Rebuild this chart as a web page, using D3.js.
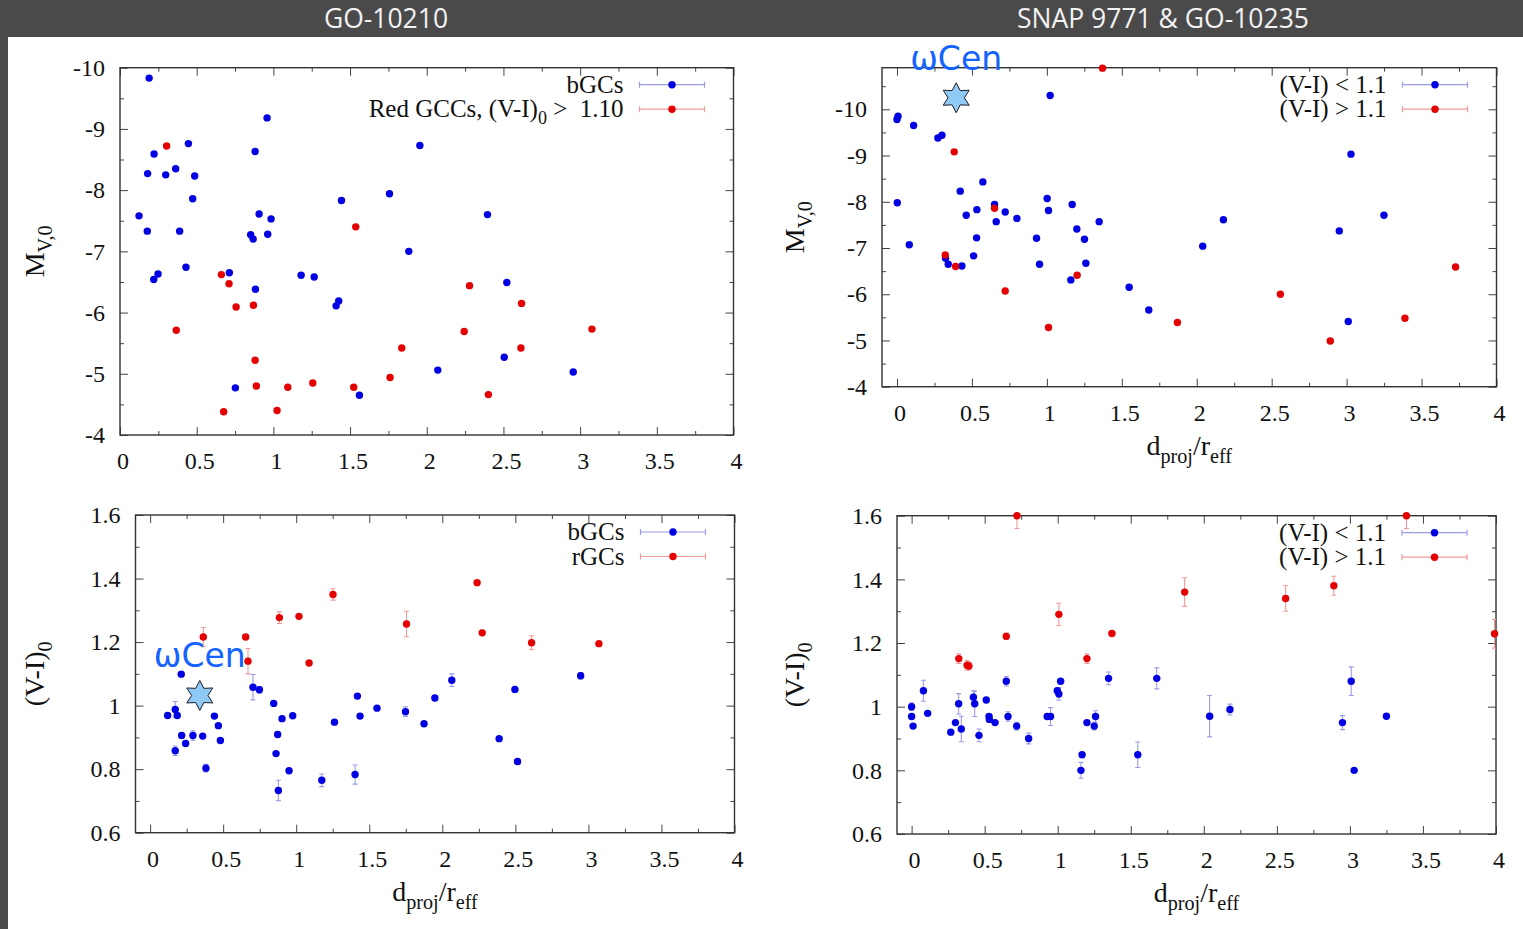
<!DOCTYPE html>
<html>
<head>
<meta charset="utf-8">
<script src="https://cdn.jsdelivr.net/npm/d3@7"></script>
<style>
  body { margin: 0; background: #fff; }
  svg { display: block; }
</style>
</head>
<body>
<svg id="chart" width="1523" height="929"></svg>
<script>
// ---------------- data ----------------
const programmes = ["GO-10210", "SNAP 9771 & GO-10235"];

const distTicks = [0, 0.5, 1, 1.5, 2, 2.5, 3, 3.5, 4];
const mvTicks = [-10, -9, -8, -7, -6, -5, -4];
const colourTicks = [0.6, 0.8, 1, 1.2, 1.4, 1.6];

const legendGO = ["bGCs", "Red GCCs, (V-I)_{0} >\u00a0 1.10"];
const legendGOColour = ["bGCs", "rGCs"];
const legendSNAP = ["(V-I) < 1.1", "(V-I) > 1.1"];

const titleMv = "M_{V,0}";
const titleColour = "(V-I)_{0}";
const titleDist = "d_{proj}/r_{eff}";
const omegaLabel = "\u03c9Cen";

// GO-10210: [d_proj/r_eff, M_V,0]
const mvBlueGO = [
  [0.19, -9.83], [0.959, -9.18], [0.446, -8.76], [0.222, -8.59], [0.881, -8.63],
  [0.18, -8.27], [0.298, -8.25], [0.363, -8.35], [0.487, -8.23], [0.474, -7.86],
  [0.124, -7.58], [0.178, -7.33], [0.389, -7.33], [0.907, -7.61], [0.985, -7.53],
  [0.852, -7.27], [0.868, -7.20], [0.963, -7.28], [1.444, -7.83], [1.757, -7.94],
  [1.883, -7.00], [0.43, -6.74], [0.248, -6.63], [0.22, -6.54], [0.713, -6.65],
  [0.883, -6.38], [1.181, -6.61], [1.266, -6.58], [1.426, -6.19], [1.409, -6.11],
  [0.752, -4.77], [1.561, -4.65], [1.955, -8.73], [2.396, -7.60], [2.522, -6.49],
  [2.505, -5.27], [2.072, -5.06], [2.955, -5.03]
];
const mvRedGO = [
  [0.304, -8.72], [0.367, -5.71], [0.661, -6.62], [0.711, -6.47], [0.757, -6.09],
  [0.87, -6.12], [0.881, -5.22], [0.889, -4.80], [0.676, -4.38], [1.024, -4.40],
  [1.094, -4.78], [1.257, -4.85], [1.524, -4.78], [1.537, -7.40], [1.761, -4.94],
  [1.837, -5.42], [2.279, -6.44], [2.618, -6.15], [2.244, -5.69], [2.614, -5.42],
  [3.077, -5.73], [2.402, -4.66]
];

// SNAP 9771 & GO-10235: [d_proj/r_eff, M_V,0]
const mvBlueSNAP = [
  [0.007, -9.85], [0.0, -9.78], [0.111, -9.65], [0.273, -9.38], [0.30, -9.44],
  [0.002, -7.98], [0.082, -7.07], [0.422, -8.23], [0.573, -8.43], [0.462, -7.71],
  [0.533, -7.83], [0.531, -7.22], [0.511, -6.83], [0.324, -6.78], [0.342, -6.65],
  [0.433, -6.61], [0.651, -7.94], [0.662, -7.57], [0.722, -7.78], [0.80, -7.64],
  [0.931, -7.21], [0.951, -6.65], [1.002, -8.07], [1.011, -7.81], [1.022, -10.30],
  [1.169, -7.94], [1.20, -7.41], [1.251, -7.19], [1.26, -6.67], [1.16, -6.31],
  [1.349, -7.57], [1.549, -6.15], [1.68, -5.66], [2.04, -7.04], [2.178, -7.61],
  [2.951, -7.37], [3.029, -9.03], [3.249, -7.71], [3.011, -5.41]
];
const mvRedSNAP = [
  [1.371, -10.89], [0.382, -9.08], [0.322, -6.85], [0.391, -6.60], [0.651, -7.86],
  [0.722, -6.07], [1.202, -6.41], [1.011, -5.28], [1.871, -5.39], [2.558, -6.00],
  [2.891, -4.99], [3.389, -5.48], [3.727, -6.59]
];

// GO-10210: [d_proj/r_eff, (V-I)_0, error]
const colourBlueGO = [
  [0.12, 0.969, 0.005], [0.172, 0.988, 0.025], [0.186, 0.969, 0.005], [0.172, 0.858, 0.015],
  [0.213, 1.099, 0.005], [0.216, 0.906, 0.008], [0.243, 0.881, 0.008], [0.293, 0.906, 0.015],
  [0.36, 0.904, 0.005], [0.382, 0.803, 0.012], [0.44, 0.967, 0.005], [0.467, 0.937, 0.005],
  [0.481, 0.89, 0.005], [0.704, 1.058, 0.04], [0.748, 1.05, 0.01], [0.846, 1.007, 0.005],
  [0.903, 0.959, 0.005], [0.976, 0.968, 0.005], [0.873, 0.909, 0.008], [0.862, 0.849, 0.005],
  [0.951, 0.795, 0.005], [0.878, 0.733, 0.032], [1.175, 0.765, 0.02], [1.403, 0.783, 0.03],
  [1.262, 0.948, 0.006], [1.419, 1.03, 0.008], [1.437, 0.967, 0.005], [1.553, 0.992, 0.005],
  [1.748, 0.981, 0.015], [1.875, 0.943, 0.005], [1.949, 1.024, 0.008], [2.065, 1.08, 0.02],
  [2.497, 1.051, 0.005], [2.389, 0.896, 0.005], [2.515, 0.824, 0.005], [2.947, 1.094, 0.01]
];
const colourRedGO = [
  [0.364, 1.216, 0.03], [0.654, 1.216, 0.008], [0.67, 1.14, 0.04], [0.885, 1.277, 0.018],
  [1.019, 1.281, 0.005], [1.088, 1.134, 0.005], [1.252, 1.35, 0.018], [1.755, 1.257, 0.04],
  [2.238, 1.387, 0.005], [2.273, 1.229, 0.008], [2.611, 1.198, 0.022], [3.072, 1.195, 0.005]
];

// SNAP 9771 & GO-10235: [d_proj/r_eff, (V-I)_0, error]
const colourBlueSNAP = [
  [0.0, 1.0, 0.012], [0.0, 0.969, 0.005], [0.01, 0.939, 0.005], [0.081, 1.05, 0.033],
  [0.11, 0.979, 0.005], [0.268, 0.92, 0.005], [0.30, 0.95, 0.005], [0.322, 1.009, 0.032],
  [0.34, 0.93, 0.04], [0.423, 1.03, 0.02], [0.432, 1.009, 0.04], [0.461, 0.91, 0.02],
  [0.511, 1.021, 0.008], [0.53, 0.969, 0.008], [0.532, 0.96, 0.005], [0.571, 0.95, 0.005],
  [0.648, 1.08, 0.015], [0.66, 0.969, 0.015], [0.719, 0.939, 0.012], [0.801, 0.90, 0.017],
  [0.928, 0.969, 0.008], [0.951, 0.969, 0.028], [0.997, 1.05, 0.008], [1.008, 1.04, 0.02],
  [1.02, 1.08, 0.005], [1.159, 0.80, 0.025], [1.167, 0.849, 0.005], [1.20, 0.95, 0.005],
  [1.25, 0.939, 0.012], [1.259, 0.969, 0.018], [1.348, 1.089, 0.02], [1.548, 0.849, 0.04],
  [1.678, 1.089, 0.033], [2.04, 0.97, 0.065], [2.179, 0.991, 0.017], [2.949, 0.95, 0.022],
  [3.009, 1.08, 0.045], [3.029, 0.80, 0.005], [3.25, 0.97, 0.005]
];
const colourRedSNAP = [
  [0.721, 1.60, 0.04], [0.323, 1.151, 0.015], [0.38, 1.13, 0.015], [0.392, 1.128, 0.012],
  [0.648, 1.221, 0.01], [1.008, 1.29, 0.035], [1.20, 1.151, 0.015], [1.371, 1.23, 0.005],
  [1.869, 1.36, 0.045], [2.56, 1.34, 0.04], [2.89, 1.38, 0.03], [3.387, 1.60, 0.04],
  [3.99, 1.229, 0.045]
];

// omega Cen reference marks: [d_proj/r_eff, value]
const omegaCenMv = [0.395, -10.25];
const omegaCenColour = [0.34, 1.032];

// ---------------- styling ----------------
const SERIF = "'Liberation Serif', 'Times New Roman', serif";
const SANS = "'Open Sans', 'DejaVu Sans', sans-serif";
const BLUE = "#0000e2", RED = "#e40000";
const BLUE_BAR = "#9c9ce6", RED_BAR = "#f09a9a";
const FRAME = "#333";

const svg = d3.select("#chart");
const W = 1523, H = 929;

svg.append("rect").attr("width", W).attr("height", H).attr("fill", "#fff");
svg.append("rect").attr("x", 0).attr("y", 0).attr("width", W).attr("height", 37).attr("fill", "#4a4a4a");
svg.append("rect").attr("x", 0).attr("y", 37).attr("width", 8).attr("height", H - 37).attr("fill", "#4a4a4a");

[[386, programmes[0]], [1163, programmes[1]]].forEach(([cx, t]) => {
  svg.append("text").attr("x", cx).attr("y", 28)
    .attr("text-anchor", "middle").attr("font-family", SANS)
    .attr("font-size", 26.5).attr("fill", "#f2f2f2").text(t);
});

// text with "_{...}" subscripts
function richText(sel, str, fs) {
  const parts = str.split(/(_\{[^}]*\})/).filter(s => s.length);
  const shift = fs * 0.28;
  let down = false;
  parts.forEach(p => {
    if (p.startsWith("_{")) {
      sel.append("tspan").attr("font-size", fs * 0.72).attr("dy", shift).text(p.slice(2, -1));
      down = true;
    } else {
      const t = sel.append("tspan").attr("font-size", fs).text(p);
      if (down) { t.attr("dy", -shift); down = false; }
    }
  });
}

const panels = [
  { box: [120, 67.7, 733.5, 435], xDom: [0, 4], yDom: [-4, -10], yTicks: mvTicks, yMinor: 0.5,
    blue: mvBlueGO, red: mvRedGO, legend: legendGO, yTitle: titleMv, xTitle: null, yTitleX: 35, omega: null },
  { box: [882, 67.7, 1496.5, 386.7], xDom: [-0.1, 4], yDom: [-4, -10.9], yTicks: mvTicks, yMinor: 0.5,
    blue: mvBlueSNAP, red: mvRedSNAP, legend: legendSNAP, yTitle: titleMv, xTitle: titleDist, yTitleX: 795, omega: omegaCenMv },
  { box: [135.5, 515, 734.5, 832.7], xDom: [-0.1, 4], yDom: [0.6, 1.6], yTicks: colourTicks, yMinor: 0.1,
    blue: colourBlueGO, red: colourRedGO, legend: legendGOColour, yTitle: titleColour, xTitle: titleDist, yTitleX: 35, omega: omegaCenColour },
  { box: [897, 515.7, 1496, 834], xDom: [-0.1, 4], yDom: [0.6, 1.6], yTicks: colourTicks, yMinor: 0.1,
    blue: colourBlueSNAP, red: colourRedSNAP, legend: legendSNAP, yTitle: titleColour, xTitle: titleDist, yTitleX: 795, omega: null }
];

function within(v, dom) {
  const lo = Math.min(dom[0], dom[1]) - 1e-9, hi = Math.max(dom[0], dom[1]) + 1e-9;
  return v >= lo && v <= hi;
}

function starPath(cx, cy, R, r) {
  const pts = d3.range(12).map(k => {
    const a = -Math.PI / 2 + k * Math.PI / 6;
    const rad = k % 2 ? r : R;
    return [cx + rad * Math.cos(a), cy + rad * Math.sin(a)];
  });
  return d3.line()(pts) + "Z";
}

const overlay = [];

panels.forEach((p, i) => {
  const [L, T, R, B] = p.box;
  const x = d3.scaleLinear().domain(p.xDom).range([L, R]);
  const y = d3.scaleLinear().domain(p.yDom).range([B, T]);
  const g = svg.append("g");

  const clipId = "plotclip" + i;
  svg.append("clipPath").attr("id", clipId)
    .append("rect").attr("x", L).attr("y", T).attr("width", R - L).attr("height", B - T);

  const xMinor = d3.range(0, 4.0001, 0.25).filter(v => within(v, p.xDom) && !distTicks.includes(v));
  const yLo = Math.min(...p.yDom), yHi = Math.max(...p.yDom);
  const yMinor = d3.range(Math.ceil(yLo / p.yMinor) * p.yMinor, yHi + 1e-9, p.yMinor)
    .map(v => +v.toFixed(3))
    .filter(v => within(v, p.yDom) && !p.yTicks.some(t => Math.abs(t - v) < 1e-6));
  const xMajor = distTicks.filter(v => within(v, p.xDom));
  const yMajor = p.yTicks.filter(v => within(v, p.yDom));

  function axis(maker, scale, values, size, transform, padding, labelled) {
    const a = maker(scale).tickValues(values).tickSize(-size).tickSizeOuter(0)
      .tickPadding(padding)
      .tickFormat(labelled ? (d => String(d)) : () => "");
    const ag = g.append("g").attr("transform", transform).call(a);
    ag.select(".domain").remove();
    ag.selectAll("line").attr("stroke", "#444").attr("stroke-width", 1);
    ag.selectAll("text").attr("font-family", SERIF).attr("font-size", 24).attr("fill", "#111");
    return ag;
  }

  // ticks on all four sides, pointing inward
  axis(d3.axisBottom, x, xMajor, 8, `translate(0,${B})`, 17, true)
    .selectAll("text").attr("dx", 2.5);
  axis(d3.axisBottom, x, xMinor, 4, `translate(0,${B})`, 17, false);
  axis(d3.axisTop, x, xMajor, 8, `translate(0,${T})`, 3, false);
  axis(d3.axisTop, x, xMinor, 4, `translate(0,${T})`, 3, false);
  axis(d3.axisLeft, y, yMajor, 8, `translate(${L},0)`, 15, true);
  axis(d3.axisLeft, y, yMinor, 4, `translate(${L},0)`, 15, false);
  axis(d3.axisRight, y, yMajor, 8, `translate(${R},0)`, 3, false);
  axis(d3.axisRight, y, yMinor, 4, `translate(${R},0)`, 3, false);

  g.append("rect").attr("x", L).attr("y", T).attr("width", R - L).attr("height", B - T)
    .attr("fill", "none").attr("stroke", FRAME).attr("stroke-width", 1.4);

  // axis titles
  const yt = g.append("text")
    .attr("transform", `translate(${p.yTitleX},${(T + B) / 2}) rotate(-90)`)
    .attr("y", 9).attr("text-anchor", "middle")
    .attr("font-family", SERIF).attr("fill", "#111");
  richText(yt, p.yTitle, 28);
  if (p.xTitle) {
    const xt = g.append("text").attr("x", (L + R) / 2).attr("y", B + 68)
      .attr("text-anchor", "middle").attr("font-family", SERIF).attr("fill", "#111");
    richText(xt, p.xTitle, 28);
  }

  // error bars and points
  const series = [[p.blue, BLUE, BLUE_BAR], [p.red, RED, RED_BAR]];
  series.forEach(([data, col, barCol]) => {
    const withErr = data.filter(d => d.length > 2);
    const eb = g.append("g").attr("clip-path", `url(#${clipId})`)
      .attr("stroke", barCol).attr("stroke-width", 1.1);
    eb.selectAll("path").data(withErr).join("path")
      .attr("fill", "none")
      .attr("d", d => {
        const cx = x(d[0]), y1 = y(d[1] - d[2]), y2 = y(d[1] + d[2]);
        return `M${cx},${y1}V${y2}M${cx - 2.5},${y1}H${cx + 2.5}M${cx - 2.5},${y2}H${cx + 2.5}`;
      });
  });
  series.forEach(([data, col]) => {
    g.append("g").selectAll("circle").data(data).join("circle")
      .attr("cx", d => x(d[0])).attr("cy", d => y(d[1])).attr("r", 3.7).attr("fill", col);
  });

  // legend
  p.legend.forEach((lab, k) => {
    const ly = T + 17 + k * 24.5;
    const col = k === 0 ? BLUE : RED, barCol = k === 0 ? BLUE_BAR : RED_BAR;
    const lt = g.append("text").attr("x", R - 110).attr("y", ly + 8)
      .attr("text-anchor", "end").attr("font-family", SERIF).attr("fill", "#111");
    richText(lt, lab, 25);
    const x1 = R - 94, x2 = R - 29;
    g.append("path").attr("fill", "none").attr("stroke", barCol).attr("stroke-width", 1.2)
      .attr("d", `M${x1},${ly}H${x2}M${x1},${ly - 3}V${ly + 3}M${x2},${ly - 3}V${ly + 3}`);
    g.append("circle").attr("cx", (x1 + x2) / 2).attr("cy", ly).attr("r", 3.7).attr("fill", col);
  });

  if (p.omega) overlay.push([x(p.omega[0]), y(p.omega[1])]);
});

// omega Cen stars and labels drawn on top
overlay.forEach(([cx, cy]) => {
  svg.append("path").attr("d", starPath(cx, cy, 15, 8.2))
    .attr("fill", "#8fc9f6").attr("stroke", "#1c1c28").attr("stroke-width", 1);
  svg.append("text").attr("x", cx).attr("y", cy - 28).attr("text-anchor", "middle")
    .attr("font-family", "'DejaVu Sans', sans-serif").attr("font-size", 33)
    .attr("fill", "#1463ff").text(omegaLabel);
});
</script>
</body>
</html>
